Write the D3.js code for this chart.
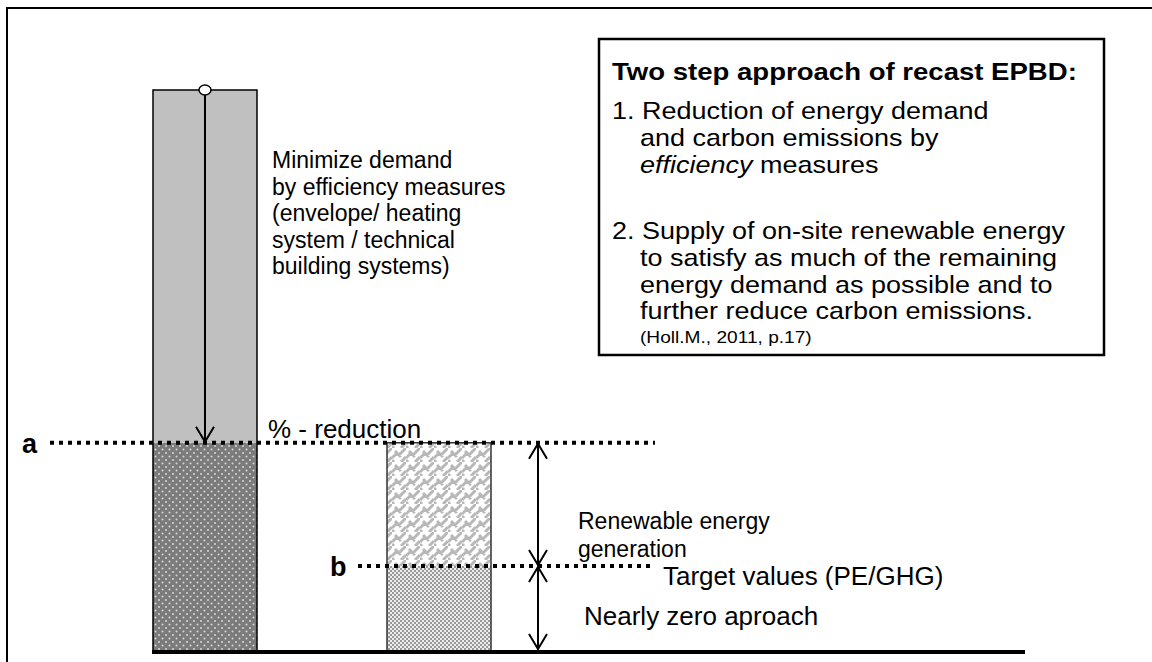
<!DOCTYPE html>
<html>
<head>
<meta charset="utf-8">
<script src="https://cdn.jsdelivr.net/npm/d3@7"></script>
<style>
  body { margin: 0; background: #fff; }
  text { font-family: "Liberation Sans", Arial, sans-serif; fill: #000; }
</style>
</head>
<body>
<div id="chart"></div>
<script>

// Bars of the diagram (demand side / supply side)
var bars = ["demand", "supply"];

// Stacked segments: which bar, lower and upper level (share of initial demand)
var segBar  = ["demand", "demand", "supply", "supply"];
var segLow  = [37, 0, 15, 0];
var segHigh = [100, 37, 37, 15];
var segKind = ["grey", "dots", "weave", "checker"];

// Reference levels a (after efficiency) and b (target value)
var levelNames  = ["a", "b"];
var levelValues = [37, 15];

// Text labels
var demandLines = ["Minimize demand", "by efficiency measures", "(envelope/ heating",
  "system / technical", "building systems)"];
var reductionLabel = "% - reduction";
var renewableLines = ["Renewable energy", "generation"];
var targetLabel = "Target values (PE/GHG)";
var nzebLabel = "Nearly zero aproach";
var boxTitle = "Two step approach of recast EPBD:";
var boxItem1 = ["1. Reduction of energy demand", "and carbon emissions by"];
var boxItem2 = ["2. Supply of on-site renewable energy", "to satisfy as much of the remaining",
  "energy demand as possible and to", "further reduce carbon emissions."];
var boxSource = "(Holl.M., 2011, p.17)";

var width = 1152, height = 662;

var svg = d3.select("#chart")
  .append("svg")
  .attr("width", width)
  .attr("height", height);

// scales
var y = d3.scaleLinear().domain([0, 100]).range([650, 90]);
var x = d3.scaleBand().domain(bars).range([153, 491]).paddingInner(0.5556).paddingOuter(0);

// fill patterns
var defs = svg.append("defs");

var dots = defs.append("pattern").attr("id", "dots")
  .attr("patternUnits", "userSpaceOnUse").attr("width", 7).attr("height", 7);
dots.append("rect").attr("width", 7).attr("height", 7).attr("fill", "#7b7b7b");
dots.append("circle").attr("cx", 1.5).attr("cy", 1.5).attr("r", 1).attr("fill", "#d8d8d8");
dots.append("circle").attr("cx", 5).attr("cy", 5).attr("r", 1).attr("fill", "#d8d8d8");

var weave = defs.append("pattern").attr("id", "weave")
  .attr("patternUnits", "userSpaceOnUse").attr("width", 14).attr("height", 14);
weave.append("rect").attr("width", 14).attr("height", 14).attr("fill", "#ffffff");
weave.append("path")
  .attr("d", "M0,10 L5,5 L9,9 M7,7 L14,0 M0,14 L2,12 M9,14 L14,9 M5,5 L3,3")
  .attr("stroke", "#b8b8b8").attr("stroke-width", 3).attr("fill", "none");

var checker = defs.append("pattern").attr("id", "checker")
  .attr("patternUnits", "userSpaceOnUse").attr("width", 4).attr("height", 4);
checker.append("rect").attr("width", 4).attr("height", 4).attr("fill", "#ececec");
checker.append("rect").attr("width", 2).attr("height", 2).attr("fill", "#9a9a9a");
checker.append("rect").attr("x", 2).attr("y", 2).attr("width", 2).attr("height", 2).attr("fill", "#9a9a9a");

var fills = { grey: "#c0c0c0", dots: "url(#dots)", weave: "url(#weave)", checker: "url(#checker)" };

// outer frame (top and left edge)
svg.append("path")
  .attr("d", "M7,662 L7,8 L1152,8")
  .attr("fill", "none").attr("stroke", "#000").attr("stroke-width", 2);

// bar segments
var segs = segBar.map(function(b, i) {
  return { bar: b, low: segLow[i], high: segHigh[i], kind: segKind[i] };
});

svg.selectAll("rect.seg")
  .data(segs)
  .enter()
  .append("rect")
  .attr("class", "seg")
  .attr("x", function(d) { return x(d.bar); })
  .attr("y", function(d) { return y(d.high); })
  .attr("width", x.bandwidth())
  .attr("height", function(d) { return y(d.low) - y(d.high); })
  .attr("fill", function(d) { return fills[d.kind]; })
  .attr("stroke", "none");

// bar outlines
svg.selectAll("path.side")
  .data(bars)
  .enter()
  .append("path")
  .attr("class", "side")
  .attr("d", function(b) {
    var top = d3.max(segs.filter(function(s) { return s.bar === b; }), function(s) { return s.high; });
    var x0 = x(b), x1 = x(b) + x.bandwidth();
    return "M" + x0 + "," + y(0) + " L" + x0 + "," + y(top) + " L" + x1 + "," + y(top) + " L" + x1 + "," + y(0);
  })
  .attr("fill", "none")
  .attr("stroke", function(b, i) { return i === 0 ? "#000" : "#333"; })
  .attr("stroke-width", 1.5);

// dotted reference lines
var levelStart = [50, 358];
var levelEnd = 655;
svg.selectAll("line.level")
  .data(levelValues)
  .enter()
  .append("line")
  .attr("class", "level")
  .attr("x1", function(d, i) { return levelStart[i]; })
  .attr("x2", levelEnd)
  .attr("y1", function(d) { return y(d); })
  .attr("y2", function(d) { return y(d); })
  .attr("stroke", "#000")
  .attr("stroke-width", 4)
  .attr("stroke-dasharray", "4,5");

svg.selectAll("text.level")
  .data(levelNames)
  .enter()
  .append("text")
  .attr("class", "level")
  .attr("x", function(d, i) { return levelStart[i] - 28; })
  .attr("y", function(d, i) { return y(levelValues[i]) + 10; })
  .style("font-size", "27px")
  .style("font-weight", "bold")
  .text(function(d) { return d; });

// baseline
svg.append("line")
  .attr("x1", 152).attr("x2", 1025)
  .attr("y1", y(0) + 2).attr("y2", y(0) + 2)
  .attr("stroke", "#000").attr("stroke-width", 4);

// arrows
function arrowHead(px, py, dir) {
  return "M" + (px - 9) + "," + (py - dir * 15) + " L" + px + "," + py + " L" + (px + 9) + "," + (py - dir * 15);
}
var ax = x("demand") + x.bandwidth() / 2;
svg.append("line")
  .attr("x1", ax).attr("x2", ax)
  .attr("y1", y(100)).attr("y2", y(levelValues[0]) - 1)
  .attr("stroke", "#000").attr("stroke-width", 2);
svg.append("path")
  .attr("d", arrowHead(ax, y(levelValues[0]) - 1, 1))
  .attr("fill", "none").attr("stroke", "#000").attr("stroke-width", 2);
svg.append("ellipse")
  .attr("cx", ax).attr("cy", y(100))
  .attr("rx", 6).attr("ry", 5)
  .attr("fill", "#fff").attr("stroke", "#000").attr("stroke-width", 1.5);

var bx = 538;
var spans = [[levelValues[0], levelValues[1]], [levelValues[1], 0]];
spans.forEach(function(s) {
  var yt = y(s[0]) + 1, yb = y(s[1]) - 1;
  svg.append("line")
    .attr("x1", bx).attr("x2", bx).attr("y1", yt).attr("y2", yb)
    .attr("stroke", "#000").attr("stroke-width", 2);
  svg.append("path").attr("d", arrowHead(bx, yt, -1))
    .attr("fill", "none").attr("stroke", "#000").attr("stroke-width", 2);
  svg.append("path").attr("d", arrowHead(bx, yb, 1))
    .attr("fill", "none").attr("stroke", "#000").attr("stroke-width", 2);
});

// labels (sx = horizontal stretch of the original drawing)
function addLines(lines, x0, y0, step, size, sx) {
  return svg.append("g").selectAll("text")
    .data(lines)
    .enter()
    .append("text")
    .attr("transform", function(d, i) {
      return "translate(" + x0 + "," + (y0 + i * step) + ") scale(" + (sx || 1) + ",1)";
    })
    .style("font-size", size + "px")
    .text(function(d) { return d; });
}

addLines(demandLines, 272, 168, 26.5, 23);
addLines([reductionLabel], 268, 438, 0, 26);
addLines(renewableLines, 578, 529, 27.5, 23);
addLines([targetLabel], 663, 585, 0, 26);
addLines([nzebLabel], 584, 625, 0, 26);

// text box
svg.append("rect")
  .attr("x", 599).attr("y", 39)
  .attr("width", 505).attr("height", 316)
  .attr("fill", "#fff").attr("stroke", "#000").attr("stroke-width", 2.5);

var sx = 1.125;
addLines([boxTitle], 612, 80, 0, 24.5, sx).style("font-weight", "bold");

addLines([boxItem1[0]], 612, 119, 0, 24, sx);
addLines([boxItem1[1]], 640, 146, 0, 24, sx);

var eff = svg.append("text")
  .attr("transform", "translate(640,173) scale(" + sx + ",1)")
  .style("font-size", "24px");
eff.append("tspan").style("font-style", "italic").text("efficiency");
eff.append("tspan").text(" measures");

addLines([boxItem2[0]], 612, 239, 0, 24, sx);
addLines(boxItem2.slice(1), 640, 266, 26.5, 24, sx);
addLines([boxSource], 640, 343, 0, 17, sx);

</script>
</body>
</html>
